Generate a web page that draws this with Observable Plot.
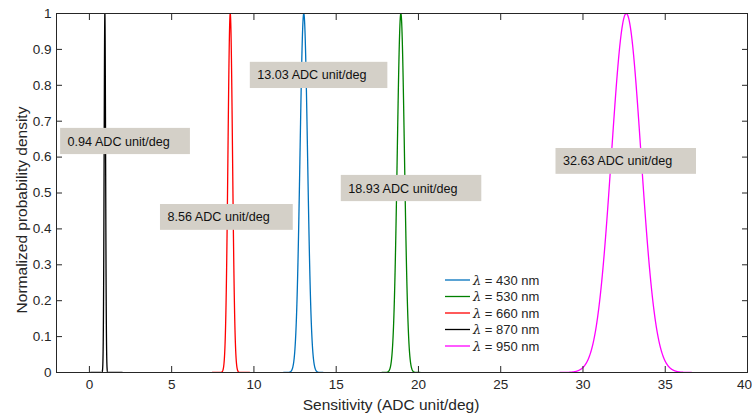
<!DOCTYPE html>
<html><head><meta charset="utf-8">
<script src="https://cdn.jsdelivr.net/npm/d3@7"></script>
<script src="https://cdn.jsdelivr.net/npm/@observablehq/plot@0.6"></script>
<style>
body{margin:0;background:#fff;}
#chart{position:relative;width:752px;height:416px;}
#chart svg{font-family:"Liberation Sans",Arial,sans-serif !important;}
#chart svg g[aria-label="x-axis tick label"], #chart svg g[aria-label="y-axis tick label"]{font-size:13.5px !important;}
</style>
</head><body><div id="chart"></div>
<script>
// Series (legend order)
const series = ["430 nm", "530 nm", "660 nm", "870 nm", "950 nm"];
const colors = ["#0072BD", "#008000", "#FF0000", "#000000", "#FF00FF"];
// Gaussian parameters (mean = annotated sensitivity)
const means  = [13.03, 18.93, 8.56, 0.94, 32.63];
const sigmas = [0.23, 0.22, 0.14, 0.045, 0.9];
const xLo    = [11.8, 17.78, 7.46, 0.07, 28.6];
const xHi    = [14.2, 20.1, 9.74, 2.0, 36.6];
// Annotation boxes (data units)
const labelText = ["13.03 ADC unit/deg", "18.93 ADC unit/deg", "8.56 ADC unit/deg", "0.94 ADC unit/deg", "32.63 ADC unit/deg"];
const labelX1 = [9.78, 15.31, 4.32, -1.75, 28.36];
const labelX2 = [18.14, 23.85, 12.39, 6.14, 36.90];
const labelY1 = [0.791, 0.476, 0.396, 0.607, 0.552];
const labelY2 = [0.864, 0.549, 0.468, 0.680, 0.624];
// Ticks and axis titles
const xTicks = [0, 5, 10, 15, 20, 25, 30, 35, 40];
const yTicks = [0, 0.1, 0.2, 0.3, 0.4, 0.5, 0.6, 0.7, 0.8, 0.9, 1];
const xTitle = "Sensitivity (ADC unit/deg)";
const yTitle = "Normalized probability density";

const curves = [];
series.forEach((s, i) => {
  const n = 800;
  for (let k = 0; k <= n; k++) {
    const x = xLo[i] + (xHi[i] - xLo[i]) * k / n;
    const z = (x - means[i]) / sigmas[i];
    curves.push({series: s, x, y: Math.exp(-0.5 * z * z)});
  }
});
const labels = labelText.map((t, i) => ({t, x1: labelX1[i], x2: labelX2[i], y1: labelY1[i], y2: labelY2[i]}));

const ink = "#262626";
const lastX = xTicks[xTicks.length - 1];
const chart = Plot.plot({
  width: 752, height: 416,
  marginLeft: 56, marginRight: 5, marginTop: 13, marginBottom: 44,
  x: {domain: [-2, 40]},
  y: {domain: [0, 1]},
  color: {domain: series, range: colors},
  marks: [
    Plot.line(curves, {x: "x", y: "y", z: "series", stroke: "series", strokeWidth: 1.3, clip: true}),
    Plot.rect(labels, {x1: "x1", x2: "x2", y1: "y1", y2: "y2", fill: "#D4D0C8"}),
    Plot.text(labels, {x: "x1", y: d => (d.y1 + d.y2) / 2, text: "t", textAnchor: "start", dx: 7, fill: "#111", fontSize: 12.6}),
    Plot.frame({stroke: ink, strokeWidth: 1}),
    // tick marks (inward) on all four sides
    Plot.axisX(xTicks, {anchor: "bottom", tickSize: -6, tickFormat: () => "", stroke: ink, label: null}),
    Plot.axisX(xTicks, {anchor: "top", tickSize: -6, tickFormat: () => "", stroke: ink, label: null}),
    Plot.axisY(yTicks, {anchor: "left", tickSize: -6, tickFormat: () => "", stroke: ink, label: null}),
    Plot.axisY(yTicks, {anchor: "right", tickSize: -6, tickFormat: () => "", stroke: ink, label: null}),
    // tick labels
    Plot.axisX(xTicks.filter(d => d !== lastX), {anchor: "bottom", tickSize: 0, tickPadding: 7, fill: ink, fontSize: 13.5, label: null}),
    Plot.axisX([lastX], {anchor: "bottom", tickSize: 0, tickPadding: 7, fill: ink, fontSize: 13.5, dx: -3, label: null}),
    Plot.axisY(yTicks, {anchor: "left", tickSize: 0, tickPadding: 5, fill: ink, fontSize: 13.5,
      tickFormat: d => String(d), label: null})
  ]
});
document.getElementById("chart").appendChild(chart);

const svg = d3.select(chart);
// Axis titles
svg.append("text").attr("x", 391).attr("y", 410).attr("text-anchor", "middle")
  .attr("font-size", 15.5).attr("fill", ink).text(xTitle);
svg.append("text").attr("transform", "translate(27,210) rotate(-90)").attr("text-anchor", "middle")
  .attr("font-size", 15.5).attr("fill", ink).text(yTitle);

// Legend (no box)
const lg = svg.append("g").attr("font-size", 13).attr("text-anchor", "start");
series.forEach((s, i) => {
  const y = 280 + i * 16.5;
  lg.append("line").attr("x1", 445).attr("x2", 470).attr("y1", y).attr("y2", y)
    .attr("stroke", colors[i]).attr("stroke-width", 1.3);
  const t = lg.append("text").attr("x", 473).attr("y", y).attr("dy", "0.35em").attr("fill", ink).attr("text-anchor", "start");
  t.append("tspan").attr("font-family", '"DejaVu Serif", serif').attr("font-style", "italic").text("λ");
  t.append("tspan").text(" = " + s);
});
</script>
</body></html>
